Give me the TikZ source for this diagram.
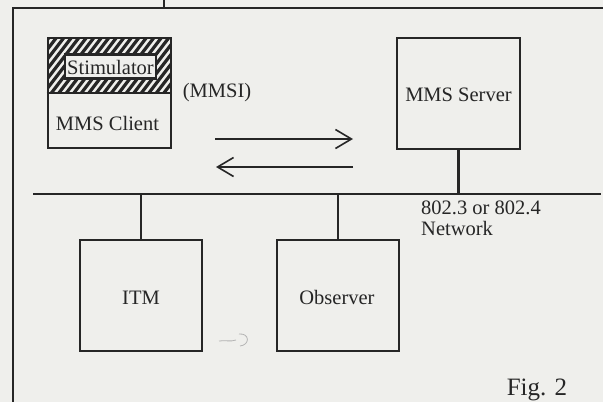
\documentclass[tikz,border=0pt]{standalone}
\usepackage{fontspec}
\setmainfont{Liberation Serif}
\usetikzlibrary{arrows.meta,calc}
\definecolor{paper}{HTML}{EFEFEC}
\definecolor{ink}{HTML}{262626}
\tikzset{
  box/.style={draw=ink, line width=2.7pt, rectangle, inner sep=0pt},
  lbl/.style={text=ink, font=\fontsize{20.5}{24}\selectfont, inner sep=0pt, anchor=base},
  wire/.style={draw=ink, line width=2.7pt},
  frameline/.style={draw=ink, line width=1.8pt},
  msg/.style={draw=ink, line width=1.6pt, -{Straight Barb[length=16pt,width=19pt,line width=1.6pt]}},
  hatch/.style={draw=ink, line width=3.2pt},
  pencil/.style={draw=ink!35, line width=0.8pt},
}
\begin{document}
\begin{tikzpicture}[x=1pt,y=-1pt]
\fill[paper] (0,0) rectangle (603,402);
\useasboundingbox (0,0) rectangle (603,402);

% page frame
\draw[frameline] (13,402) -- (13,8) -- (603,8);
\draw[frameline] (164,0) -- (164,8);

% hatched stimulator band of the client
\begin{scope}
  \clip (48,38) rectangle (171,93);
  \foreach \x in {0,7.5,...,240} \draw[hatch] (\x-50,98) -- (\x,33);
\end{scope}
\coordinate (cut) at (0,93);

% boxes
\node[box, minimum width=123pt, minimum height=110pt] (client) at (109.5,93) {};
\draw[box] (client.west |- cut) -- (client.east |- cut);
\node[box, fill=paper, line width=2.3pt, minimum width=91pt, minimum height=24pt] (stim) at (110.5,66.5) {};
\node[box, minimum width=123pt, minimum height=111pt] (server) at (458.5,93.5) {};
\node[box, minimum width=122pt, minimum height=111pt] (itm) at (141,295.5) {};
\node[box, minimum width=122pt, minimum height=111pt] (obs) at (338,295.5) {};

% labels
\node[lbl] (stimtxt) at (110.5,74) {Stimulator};
\node[lbl] (clienttxt) at (107.5,130) {MMS Client};
\node[lbl] (mmsi) at (217,97) {(MMSI)};
\node[lbl] (servertxt) at (458.5,101) {MMS Server};
\node[lbl] (itmtxt) at (141,304) {ITM};
\node[lbl] (obstxt) at (337,304) {Observer};
\node[lbl, anchor=base west] (net1) at (421,214) {802.3 or 802.4};
\node[lbl, anchor=base west] (net2) at (421,235) {Network};
\node[lbl, font=\fontsize{25}{30}\selectfont] (fig) at (537,395) {Fig. 2};

% network bus and drops
\coordinate (busL) at (33,194);
\coordinate (busR) at (601,194);
\draw[wire] (busL) -- (busR);
\draw[wire] (server.south) -- (server.south |- busL);
\draw[wire] (itm.north) -- (itm.north |- busL);
\draw[wire] (obs.north) -- (obs.north |- busL);

% request / response arrows
\coordinate (req1) at (215,139);
\coordinate (req2) at (353,139);
\coordinate (rsp1) at (353,167);
\coordinate (rsp2) at (216,167);
\draw[msg] (req1) -- (req2);
\draw[msg] (rsp1) -- (rsp2);

% pencil mark
\draw[pencil] (219,341) .. controls (226,340) and (230,342) .. (236,340);
\draw[pencil] (239,334) .. controls (250,333) and (250,345) .. (240,346);
\end{tikzpicture}
\end{document}
